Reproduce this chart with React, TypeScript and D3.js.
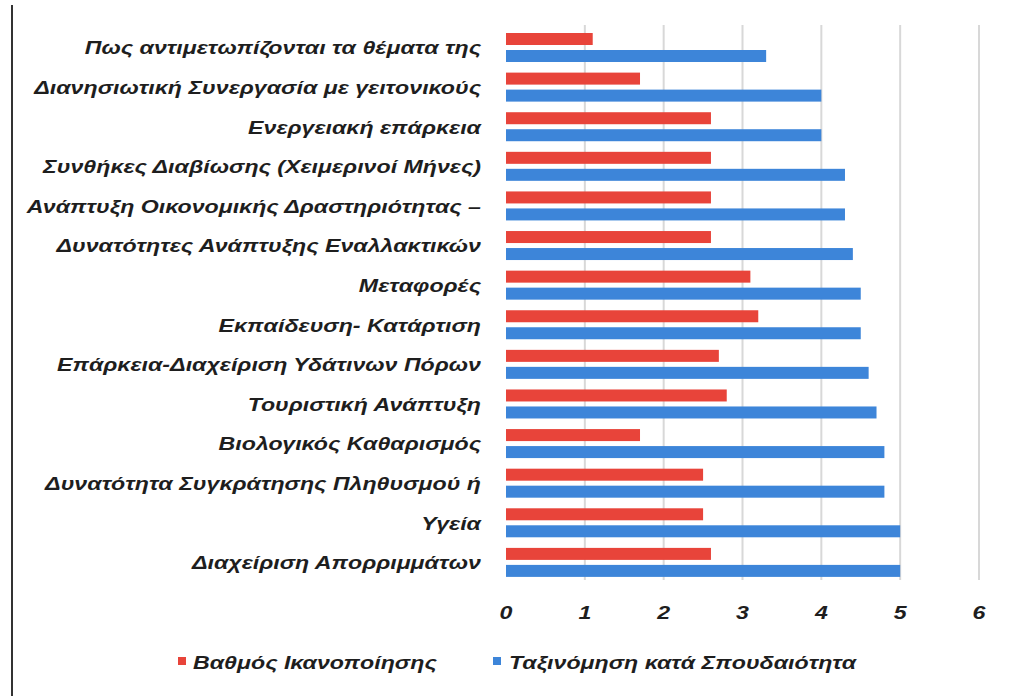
import React from "react";
import * as d3 from "d3";

const categories = [
  "Πως αντιμετωπίζονται τα θέματα της",
  "Διανησιωτική Συνεργασία με γειτονικούς",
  "Ενεργειακή επάρκεια",
  "Συνθήκες Διαβίωσης (Χειμερινοί Μήνες)",
  "Ανάπτυξη Οικονομικής Δραστηριότητας –",
  "Δυνατότητες Ανάπτυξης Εναλλακτικών",
  "Μεταφορές",
  "Εκπαίδευση- Κατάρτιση",
  "Επάρκεια-Διαχείριση Υδάτινων Πόρων",
  "Τουριστική Ανάπτυξη",
  "Βιολογικός Καθαρισμός",
  "Δυνατότητα Συγκράτησης Πληθυσμού ή",
  "Υγεία",
  "Διαχείριση Απορριμμάτων",
];
const satisfaction = [1.1, 1.7, 2.6, 2.6, 2.6, 2.6, 3.1, 3.2, 2.7, 2.8, 1.7, 2.5, 2.5, 2.6];
const importance = [3.3, 4.0, 4.0, 4.3, 4.3, 4.4, 4.5, 4.5, 4.6, 4.7, 4.8, 4.8, 5.0, 5.0];
const ticks = [0, 1, 2, 3, 4, 5, 6];
const seriesNames = ["Βαθμός Ικανοποίησης", "Ταξινόμηση κατά Σπουδαιότητα"];

const RED = "#e8443a";
const BLUE = "#3d85d9";
const FONT = "'Liberation Sans', Arial, sans-serif";
const SX = 1.22;

const textProps = {
  fontFamily: FONT,
  fontWeight: "bold" as const,
  fontStyle: "italic" as const,
  fontSize: 19,
  fill: "#1e1e1e",
};

export default function App() {
  const x = d3.scaleLinear().domain([0, 6]).range([506, 979]);
  const y = d3.scaleBand<string>().domain(categories).range([27.7, 582.2]).paddingInner(0).paddingOuter(0);
  const bw = y.bandwidth();
  const barH = 12;
  const gap = 5;
  const pairH = barH * 2 + gap;
  const off = (bw - pairH) / 2;

  return (
    <svg width={1017} height={696} style={{ position: "absolute", left: 0, top: 0, background: "#fff" }}>
      <line x1={12} x2={12} y1={5} y2={696} stroke="#333" strokeWidth={2} />
      {ticks.map((t) => (
        <line key={"g" + t} x1={x(t)} x2={x(t)} y1={25} y2={580} stroke="#d8d8d8" strokeWidth={t === 0 ? 0 : 2} />
      ))}
      {categories.map((c, i) => {
        const y0 = (y(c) as number) + off;
        const cy = (y(c) as number) + bw / 2;
        return (
          <g key={c}>
            <rect x={x(0)} y={y0} width={x(satisfaction[i]) - x(0)} height={barH} fill={RED} />
            <rect x={x(0)} y={y0 + barH + gap} width={x(importance[i]) - x(0)} height={barH} fill={BLUE} />
            <text transform={`translate(481,${cy + 6.8}) scale(${SX},1)`} textAnchor="end" {...textProps}>
              {c}
            </text>
          </g>
        );
      })}
      {ticks.map((t) => (
        <text key={"t" + t} transform={`translate(${x(t)},${618.5}) scale(${SX},1)`} textAnchor="middle" {...textProps}>
          {t}
        </text>
      ))}
      <rect x={178} y={657} width={8} height={8} fill={RED} />
      <text transform={`translate(193,668.5) scale(${SX},1)`} {...textProps}>
        {seriesNames[0]}
      </text>
      <rect x={493} y={657} width={8} height={8} fill={BLUE} />
      <text transform={`translate(509,668.5) scale(${SX},1)`} {...textProps}>
        {seriesNames[1]}
      </text>
    </svg>
  );
}
